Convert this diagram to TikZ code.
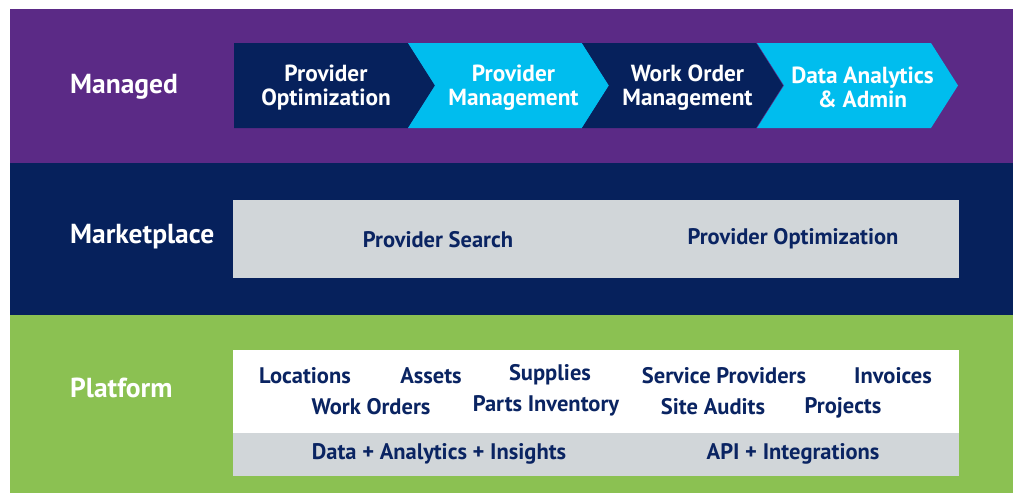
\documentclass[tikz,border=0pt]{standalone}
\usepackage{fontspec}
\setmainfont{PT Sans}
\usepackage{tikz}
\usetikzlibrary{positioning}
\definecolor{mgdpurple}{HTML}{5B2A86}
\definecolor{mktnavy}{HTML}{06215C}
\definecolor{chevcyan}{HTML}{00BDEE}
\definecolor{pltgreen}{HTML}{8BC152}
\definecolor{boxgrey}{HTML}{D1D6D9}
\definecolor{txtnavy}{HTML}{0A2462}

\begin{document}
\begin{tikzpicture}[x=1pt,y=-1pt,
  layer/.style={font=\bfseries\fontsize{27.5}{30}\selectfont,text=white,anchor=base west,inner sep=0},
  chevtext/.style={font=\bfseries\fontsize{23.3}{24}\selectfont,text=white,align=center},
  item/.style={font=\bfseries\fontsize{22.5}{24}\selectfont,text=txtnavy,anchor=base,inner sep=0},
  panel/.style={anchor=north west,inner sep=0,outer sep=0,minimum width=726pt}]
\useasboundingbox (0,0) rectangle (1013,493);
% the three bands
\fill[mgdpurple] (10,9) rectangle (1013,163);
\fill[mktnavy] (10,163) rectangle (1013,315);
\fill[pltgreen] (10,315) rectangle (1013,493);
\node[layer] (managed) at (70,93) {Managed};
\node[layer] (market) at (70,243) {Marketplace};
\node[layer] (platform) at (70,397) {Platform};

% managed: chevrons
\foreach \x/\dn/\col/\txt [count=\i] in {234/0/mktnavy/{Provider\\Optimization},
    408/27/chevcyan/{Provider\\Management},
    582/27/mktnavy/{Work Order\\Management},
    757/27/chevcyan/{Data Analytics\\\& Admin}}{
  \fill[\col] (\x,43) -- (\x+174,43) -- (\x+201,85.5) -- (\x+174,128) -- (\x,128) -- (\x+\dn,85.5) -- cycle;
  \node[chevtext] (chev\i) at (\x+\dn/2+92,87.5) {\txt};
}

% marketplace
\node[panel,fill=boxgrey,minimum height=78pt] (mktbox) at (233,200) {};
\node[item] (search) at (438,247) {Provider Search};
\node[item] (mktopt) at (793,244) {Provider Optimization};

% platform
\node[panel,fill=white,minimum height=83pt] (pltbox) at (233,350) {};
\node[panel,fill=boxgrey,minimum height=43pt] (pltbase) at (233,433) {};
\node[item] (locations) at (305,383) {Locations};
\node[item] (assets) at (431,383) {Assets};
\node[item] (supplies) at (550,380) {Supplies};
\node[item] (providers) at (724,383) {Service Providers};
\node[item] (invoices) at (893,383) {Invoices};
\node[item] (workorders) at (371,414) {Work Orders};
\node[item] (parts) at (546,411) {Parts Inventory};
\node[item] (audits) at (713,414) {Site Audits};
\node[item] (projects) at (843,413) {Projects};
\node[item] (data) at (439,459) {Data + Analytics + Insights};
\node[item] (api) at (793,459) {API + Integrations};
\end{tikzpicture}
\end{document}
